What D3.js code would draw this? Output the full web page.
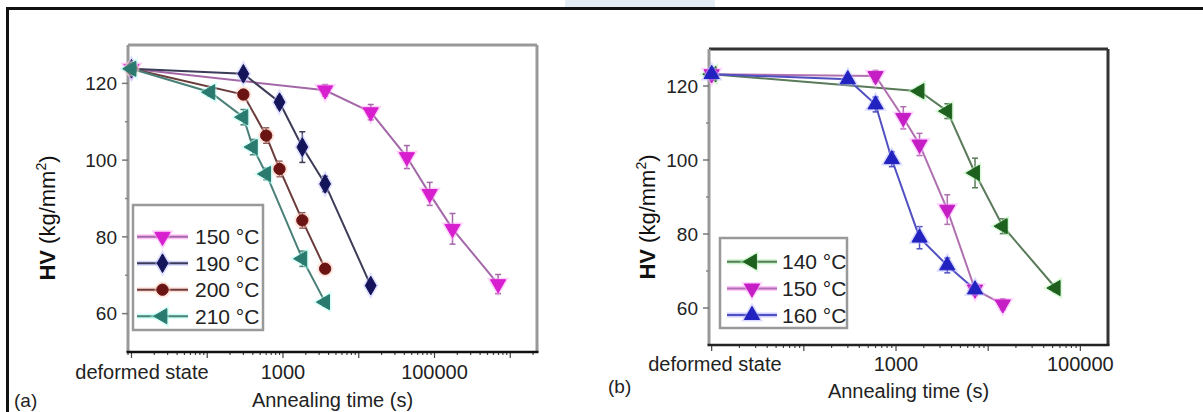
<!DOCTYPE html>
<meta charset="utf-8">
<script src="https://d3js.org/d3.v7.min.js"></script>
<style>
  body { margin: 0; background: #fff; }
  svg { display: block; font-family: "Liberation Sans", Arial, sans-serif; }
</style>
<div id="chart"></div>
<script>

// annealing time (s); 10 s stands in for the "deformed state" column
var deformedT = 10;

// panel (a)
var timeA150 = [10, 3600, 14400, 43200, 86400, 172800, 691200];
var hvA150   = [123.8, 118.2, 112.5, 100.8, 91.2, 82.1, 67.7];
var errA150  = [0, 1.5, 2, 3, 3, 4, 2.5];
var timeA190 = [10, 300, 900, 1800, 3600, 14400];
var hvA190   = [123.8, 122.5, 115.1, 103.4, 93.8, 67.3];
var errA190  = [0, 1, 1.5, 4, 2, 1];
var timeA200 = [10, 300, 600, 900, 1800, 3600];
var hvA200   = [123.8, 117.1, 106.4, 97.7, 84.3, 71.7];
var errA200  = [0, 1, 2, 2, 2, 1];
var timeA210 = [10, 110, 300, 400, 600, 1800, 3600];
var hvA210   = [123.8, 117.7, 111.2, 103.4, 96.4, 74.3, 63.0];
var errA210  = [0, 1, 2, 2, 1.5, 2, 1];

// panel (b)
var timeB140 = [10, 1800, 3600, 7200, 14400, 54000];
var hvB140   = [123.2, 118.6, 113.2, 96.5, 82.1, 65.4];
var errB140  = [0, 1, 2, 4, 2, 1];
var timeB150 = [10, 600, 1200, 1800, 3600, 7200, 14400];
var hvB150   = [123.2, 122.7, 111.4, 104.2, 86.6, 65.0, 61.0];
var errB150  = [0, 1.5, 3, 3, 4, 1.5, 1.5];
var timeB160 = [10, 300, 600, 900, 1800, 3600, 7200];
var hvB160   = [123.2, 121.8, 115.0, 100.2, 79.0, 71.5, 65.0];
var errB160  = [0, 1, 2, 2, 3, 2, 1];

var yTicks = [60, 80, 100, 120];
var yMinor = [70, 90, 110];
var xTickLabels = [1000, 100000];
var legendA = ["150 °C", "190 °C", "200 °C", "210 °C"];
var legendB = ["140 °C", "150 °C", "160 °C"];

function zip(t, v, e) {
  return t.map(function(d, i) { return {t: d, v: v[i], e: e[i]}; });
}

var svg = d3.select("#chart").append("svg")
  .attr("width", 1203).attr("height", 412);

// outer frame of the figure
svg.append("path")
  .attr("d", "M7.5,412 L7.5,8.5 L1203,8.5")
  .attr("fill", "none").attr("stroke", "#111").attr("stroke-width", 3);
// faint smudge at the top (scan artefact)
svg.append("rect").attr("x", 565).attr("y", 0).attr("width", 150).attr("height", 7)
  .attr("fill", "#e4ecf4");

var panels = [
  {
    left: 128, right: 537, top: 45, bottom: 352,
    xmin: Math.pow(10, 0.954), xmax: Math.pow(10, 6.353),
    frameCol: "#999", baseCol: "#111", topCol: "#999", rightCol: "#999",
    tickLabelY: 379, deformedDx: 10.5, titleY: 407, yTitleX: 47, yTitleY: 218,
    tag: "(a)", tagX: 14, tagY: 407,
    series: [
      {name: legendA[0], data: zip(timeA150, hvA150, errA150), col: "#d81fd0", halo: "#ff9cf5", line: "#a468a8", sym: "down"},
      {name: legendA[1], data: zip(timeA190, hvA190, errA190), col: "#14145a", halo: "#b8b8ff", line: "#3c3c58", sym: "diamond"},
      {name: legendA[2], data: zip(timeA200, hvA200, errA200), col: "#6a1414", halo: "#ffc8b8", line: "#6c3c3c", sym: "circle"},
      {name: legendA[3], data: zip(timeA210, hvA210, errA210), col: "#2a7a70", halo: "#a8fff0", line: "#4a8078", sym: "left"}
    ],
    legend: {x0: 133, x1: 263, y0: 205, y1: 330, rowY: 236.7, dy: 26.5, lineX0: 137, lineX1: 188, textX: 195}
  },
  {
    left: 709, right: 1108, top: 49, bottom: 345,
    xmin: Math.pow(10, 0.971), xmax: Math.pow(10, 5.30),
    frameCol: "#999", baseCol: "#222", topCol: "#333", rightCol: "#333",
    tickLabelY: 371, deformedDx: 3.3, titleY: 398, yTitleX: 647, yTitleY: 217,
    tag: "(b)", tagX: 608, tagY: 393,
    series: [
      {name: legendB[0], data: zip(timeB140, hvB140, errB140), col: "#1e601e", halo: "#a8f0a8", line: "#5a7a5a", sym: "left"},
      {name: legendB[1], data: zip(timeB150, hvB150, errB150), col: "#c41ec4", halo: "#ffa0ff", line: "#b070b0", sym: "down"},
      {name: legendB[2], data: zip(timeB160, hvB160, errB160), col: "#2222c0", halo: "#b0b0ff", line: "#5050c0", sym: "up"}
    ],
    legend: {x0: 720, x1: 847, y0: 238, y1: 328, rowY: 261.7, dy: 26.7, lineX0: 727, lineX1: 777, textX: 782}
  }
];

function symbolPath(kind, size) {
  var type = d3.symbolTriangle, rot = 0;
  if (kind === "down") rot = 180;
  if (kind === "left") rot = -90;
  if (kind === "diamond") type = d3.symbolDiamond;
  if (kind === "circle") type = d3.symbolCircle;
  return {d: d3.symbol().type(type).size(size)(), rot: rot};
}

function drawMarker(g, s, x, y) {
  var halo = symbolPath(s.sym, 210);
  var m = symbolPath(s.sym, 100);
  g.append("path").attr("d", halo.d)
    .attr("transform", "translate(" + x + "," + y + ") rotate(" + halo.rot + ")")
    .attr("fill", s.halo).attr("opacity", 0.45);
  g.append("path").attr("d", m.d)
    .attr("transform", "translate(" + x + "," + y + ") rotate(" + m.rot + ")")
    .attr("fill", s.col).attr("stroke", s.col).attr("stroke-width", 1);
}

panels.forEach(function(p) {
  var x = d3.scaleLog().domain([p.xmin, p.xmax]).range([p.left, p.right]);
  var y = d3.scaleLinear().domain([50, 130]).range([p.bottom, p.top]);
  var g = svg.append("g");

  // frame
  g.append("line").attr("x1", p.left).attr("x2", p.right).attr("y1", p.top).attr("y2", p.top)
    .attr("stroke", p.topCol).attr("stroke-width", 3);
  g.append("line").attr("x1", p.right).attr("x2", p.right).attr("y1", p.top).attr("y2", p.bottom)
    .attr("stroke", p.rightCol).attr("stroke-width", 3);
  g.append("line").attr("x1", p.left).attr("x2", p.left).attr("y1", p.top).attr("y2", p.bottom)
    .attr("stroke", p.frameCol).attr("stroke-width", 3);

  // y axis ticks
  yTicks.forEach(function(v) {
    g.append("line").attr("x1", p.left - 6).attr("x2", p.left).attr("y1", y(v)).attr("y2", y(v))
      .attr("stroke", "#777").attr("stroke-width", 1.5);
    g.append("text").attr("x", p.left - 11).attr("y", y(v)).attr("dy", "0.36em")
      .attr("text-anchor", "end").attr("font-size", 19).attr("fill", "#222").text(v);
  });
  yMinor.forEach(function(v) {
    g.append("line").attr("x1", p.left - 3).attr("x2", p.left).attr("y1", y(v)).attr("y2", y(v))
      .attr("stroke", "#888").attr("stroke-width", 1.5);
  });

  // bottom axis (log)
  var xt = x.ticks().filter(function(t) { return t >= p.xmin && t <= p.xmax; });
  xt.forEach(function(t) {
    var major = Math.abs(Math.log10(t) - Math.round(Math.log10(t))) < 1e-9;
    g.append("line").attr("x1", x(t)).attr("x2", x(t))
      .attr("y1", p.bottom).attr("y2", p.bottom + (major ? 6 : 3))
      .attr("stroke", "#444").attr("stroke-width", 1.2);
  });
  g.append("line").attr("x1", p.left - 1.5).attr("x2", p.right + 1.5).attr("y1", p.bottom).attr("y2", p.bottom)
    .attr("stroke", p.baseCol).attr("stroke-width", 2.5);

  g.append("text").attr("x", x(deformedT) + p.deformedDx).attr("y", p.tickLabelY)
    .attr("text-anchor", "middle").attr("font-size", 20).attr("fill", "#222").text("deformed state");
  xTickLabels.forEach(function(t) {
    g.append("text").attr("x", x(t)).attr("y", p.tickLabelY)
      .attr("text-anchor", "middle").attr("font-size", 20).attr("fill", "#222").text(t);
  });

  // axis titles
  g.append("text").attr("x", (p.left + p.right) / 2).attr("y", p.titleY)
    .attr("text-anchor", "middle").attr("font-size", 20).attr("fill", "#222").text("Annealing time (s)");
  var yt = g.append("text")
    .attr("transform", "translate(" + p.yTitleX + "," + p.yTitleY + ") rotate(-90)")
    .attr("dy", "0.35em").attr("text-anchor", "middle").attr("font-size", 22).attr("fill", "#111");
  yt.append("tspan").attr("font-weight", "bold").text("HV");
  yt.append("tspan").text(" (kg/mm");
  yt.append("tspan").attr("font-size", 14).attr("dy", "-0.6em").text("2");
  yt.append("tspan").attr("dy", "0.4em").text(")");

  g.append("text").attr("x", p.tagX).attr("y", p.tagY).attr("font-size", 19).attr("fill", "#222").text(p.tag);

  // lines, error bars, markers
  var line = d3.line().x(function(d) { return x(d.t); }).y(function(d) { return y(d.v); });
  p.series.forEach(function(s) {
    g.append("path").datum(s.data).attr("d", line)
      .attr("fill", "none").attr("stroke", s.line).attr("stroke-width", 2);
  });
  p.series.forEach(function(s) {
    s.data.forEach(function(d) {
      if (d.e > 0) {
        var cx = x(d.t);
        g.append("line").attr("x1", cx).attr("x2", cx).attr("y1", y(d.v - d.e)).attr("y2", y(d.v + d.e))
          .attr("stroke", s.line).attr("stroke-width", 1.5);
        [d.v - d.e, d.v + d.e].forEach(function(v) {
          g.append("line").attr("x1", cx - 3).attr("x2", cx + 3).attr("y1", y(v)).attr("y2", y(v))
            .attr("stroke", s.line).attr("stroke-width", 1.5);
        });
      }
    });
    s.data.forEach(function(d) { drawMarker(g, s, x(d.t), y(d.v)); });
  });

  // legend
  var L = p.legend;
  g.append("rect").attr("x", L.x0).attr("y", L.y0).attr("width", L.x1 - L.x0).attr("height", L.y1 - L.y0)
    .attr("fill", "#fff").attr("stroke", "#999").attr("stroke-width", 2.5);
  p.series.forEach(function(s, i) {
    var ly = L.rowY + i * L.dy;
    g.append("line").attr("x1", L.lineX0).attr("x2", L.lineX1).attr("y1", ly).attr("y2", ly)
      .attr("stroke", s.halo).attr("stroke-width", 5).attr("opacity", 0.6);
    g.append("line").attr("x1", L.lineX0).attr("x2", L.lineX1).attr("y1", ly).attr("y2", ly)
      .attr("stroke", s.line).attr("stroke-width", 2);
    drawMarker(g, s, (L.lineX0 + L.lineX1) / 2, ly);
    g.append("text").attr("x", L.textX).attr("y", ly).attr("dy", "0.36em")
      .attr("font-size", 21).attr("fill", "#222").text(s.name);
  });
});

</script>
